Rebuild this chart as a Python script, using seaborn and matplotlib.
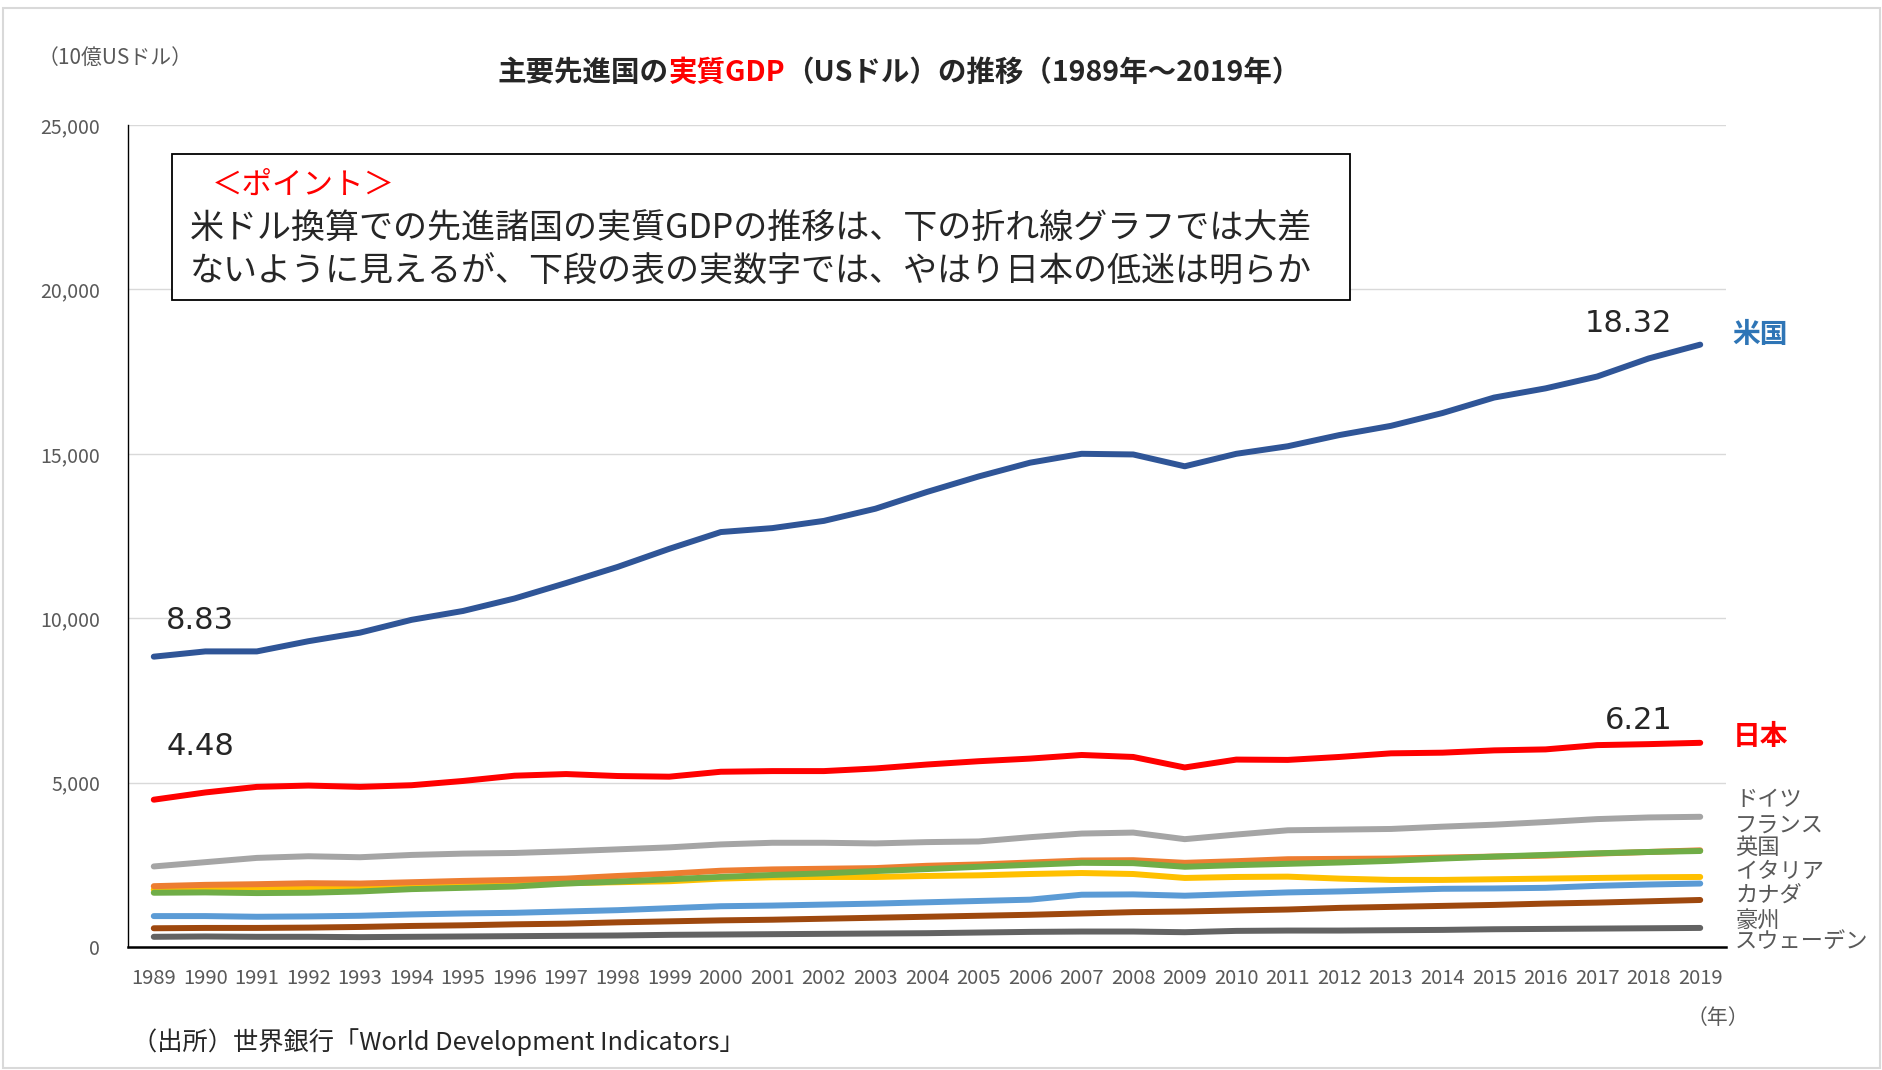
import matplotlib
matplotlib.use("Agg")
import matplotlib.pyplot as plt
import matplotlib.patches as patches
import seaborn as sns
import pandas as pd

# Data (10億USドル)
years = list(range(1989, 2020))
usa = [8830, 8990, 8990, 9300, 9560, 9950, 10220, 10600, 11070, 11560, 12110, 12620, 12740, 12960, 13330, 13840,
       14310, 14730, 15000, 14980, 14620, 15000, 15230, 15570, 15850, 16240, 16710, 16990, 17350, 17900, 18320]
japan = [4480, 4700, 4870, 4910, 4870, 4920, 5050, 5210, 5260, 5200, 5180, 5330, 5350, 5350, 5430, 5550,
         5650, 5730, 5840, 5780, 5460, 5700, 5690, 5780, 5890, 5910, 5980, 6010, 6140, 6170, 6210]
germany = [2450, 2580, 2710, 2760, 2730, 2800, 2840, 2860, 2910, 2970, 3030, 3120, 3170, 3170, 3150, 3190,
           3210, 3340, 3450, 3480, 3280, 3420, 3550, 3570, 3590, 3660, 3720, 3800, 3890, 3940, 3960]
france = [1850, 1890, 1910, 1940, 1930, 1970, 2010, 2040, 2080, 2160, 2230, 2320, 2360, 2380, 2400, 2470,
          2510, 2570, 2630, 2640, 2560, 2610, 2670, 2680, 2690, 2720, 2750, 2780, 2840, 2890, 2940]
uk = [1650, 1660, 1640, 1650, 1690, 1760, 1800, 1840, 1930, 1990, 2060, 2130, 2190, 2240, 2310, 2370,
      2440, 2500, 2560, 2550, 2440, 2490, 2530, 2570, 2620, 2690, 2750, 2800, 2850, 2890, 2920]
italy = [1750, 1790, 1810, 1820, 1800, 1840, 1890, 1910, 1940, 1970, 2000, 2080, 2120, 2130, 2130, 2160,
         2180, 2220, 2250, 2220, 2100, 2130, 2140, 2080, 2040, 2040, 2060, 2080, 2100, 2120, 2130]
canada = [940, 940, 920, 930, 950, 990, 1020, 1040, 1080, 1120, 1180, 1240, 1260, 1290, 1320, 1360,
          1400, 1440, 1590, 1600, 1560, 1610, 1660, 1690, 1730, 1770, 1780, 1800, 1860, 1900, 1930]
australia = [570, 580, 580, 590, 610, 640, 660, 690, 710, 750, 780, 810, 830, 860, 890, 920,
             950, 980, 1020, 1060, 1080, 1110, 1140, 1190, 1220, 1250, 1280, 1320, 1350, 1390, 1430]
sweden = [310, 320, 310, 310, 300, 310, 320, 330, 340, 350, 370, 380, 390, 400, 410, 420,
          440, 460, 470, 470, 450, 490, 500, 500, 510, 520, 540, 550, 560, 570, 580]

# draw order: back to front
series = [
    ("スウェーデン", sweden, "#636363"),
    ("豪州", australia, "#9E480E"),
    ("カナダ", canada, "#5B9BD5"),
    ("イタリア", italy, "#FFC000"),
    ("フランス", france, "#ED7D31"),
    ("英国", uk, "#70AD47"),
    ("ドイツ", germany, "#A5A5A5"),
    ("日本", japan, "#FF0000"),
    ("米国", usa, "#2F5597"),
]

sns.set_style("white")
plt.rcParams['font.family'] = ['Noto Sans CJK JP', 'DejaVu Sans']

W, H = 1883, 1070
fig = plt.figure(figsize=(W / 100, H / 100), dpi=100)
ax = fig.add_axes([128 / W, 1 - 947 / H, (1726 - 128) / W, (947 - 125) / H])

for name, vals, col in series:
    df = pd.DataFrame({"year": years, "gdp": vals})
    sns.lineplot(data=df, x="year", y="gdp", ax=ax, color=col, linewidth=4.3,
                 solid_capstyle="round", solid_joinstyle="round")

ax.set_xlim(1988.5, 2019.5)
ax.set_ylim(0, 25000)
ax.set_xticks(years)
ax.set_xticklabels([str(y) for y in years])
ax.set_yticks(range(0, 25001, 5000))
ax.set_yticklabels([f"{v:,}" for v in range(0, 25001, 5000)])
ax.tick_params(axis="x", labelsize=14.5, colors="#595959", pad=15, length=0)
ax.tick_params(axis="y", labelsize=14, colors="#595959", pad=20, length=0)
ax.set_xlabel("")
ax.set_ylabel("")
ax.yaxis.grid(True, color="#D9D9D9", linewidth=1)
ax.set_axisbelow(True)
for s in ["top", "right"]:
    ax.spines[s].set_visible(False)
ax.spines["left"].set_color("black")
ax.spines["left"].set_linewidth(1)
ax.spines["bottom"].set_color("black")
ax.spines["bottom"].set_linewidth(1.8)

# value labels
ax.text(1989.9, 9930, "8.83", fontsize=22, ha="center", va="center", family="DejaVu Sans")
ax.text(1989.9, 6090, "4.48", fontsize=22, ha="center", va="center", family="DejaVu Sans")
ax.text(2017.6, 18950, "18.32", fontsize=22, ha="center", va="center", family="DejaVu Sans")
ax.text(2017.8, 6890, "6.21", fontsize=22, ha="center", va="center", family="DejaVu Sans")

# series labels on the right
ax.text(2019.63, 18600, "米国", fontsize=20, fontweight="bold", color="#2E75B6", va="center", clip_on=False)
ax.text(2019.63, 6380, "日本", fontsize=20, fontweight="bold", color="#FF0000", va="center", clip_on=False)
side = [("ドイツ", 4490), ("フランス", 3690), ("英国", 3030), ("イタリア", 2280),
        ("カナダ", 1570), ("豪州", 800), ("スウェーデン", 180)]
for lab, yv in side:
    ax.text(2019.68, yv, lab, fontsize=16, color="#595959", va="center", clip_on=False)


def fx(x):
    return x / W


def fy(y):
    return 1 - y / H


# title with red part
t1 = fig.text(fx(498), fy(81), "主要先進国の", fontsize=20.5, fontweight="bold", ha="left", va="baseline")
t2 = fig.text(0, 0, "実質GDP", fontsize=20.5, fontweight="bold", color="#FF0000")
t3 = fig.text(0, 0, "（USドル）の推移（1989年～2019年）", fontsize=20.5, fontweight="bold")
fig.canvas.draw()
r = fig.canvas.get_renderer()
bb1 = t1.get_window_extent(r)
t2.set_position((bb1.x1 / W, t1.get_position()[1]))
t2.set_va("baseline")
bb2 = t2.get_window_extent(r)
t3.set_position((bb2.x1 / W, t1.get_position()[1]))
t3.set_va("baseline")

fig.text(fx(38), fy(58), "（10億USドル）", fontsize=15, color="#595959", va="center")

# point box
box = patches.Rectangle((fx(172), fy(300)), fx(1350) - fx(172), fy(154) - fy(300),
                        transform=fig.transFigure, fill=True, facecolor="white",
                        edgecolor="black", linewidth=1.3, zorder=5)
fig.patches.append(box)
fig.text(fx(212), fy(185), "＜ポイント＞", fontsize=22, color="#FF0000", va="center", zorder=6)
fig.text(fx(190), fy(229), "米ドル換算での先進諸国の実質GDPの推移は、下の折れ線グラフでは大差",
         fontsize=24.5, va="center", zorder=6)
fig.text(fx(190), fy(272), "ないように見えるが、下段の表の実数字では、やはり日本の低迷は明らか",
         fontsize=24.5, va="center", zorder=6)

fig.text(fx(1718), fy(1018), "（年）", fontsize=15, color="#595959", ha="center", va="center")
fig.text(fx(132), fy(1042), "（出所）世界銀行「World Development Indicators」", fontsize=18.2, va="center")

# outer frame
frame = patches.Rectangle((fx(3), fy(1068)), fx(1880) - fx(3), fy(8) - fy(1068),
                          transform=fig.transFigure, fill=False, edgecolor="#D9D9D9", linewidth=1.5)
fig.patches.append(frame)

fig.savefig("out.png", dpi=100)
